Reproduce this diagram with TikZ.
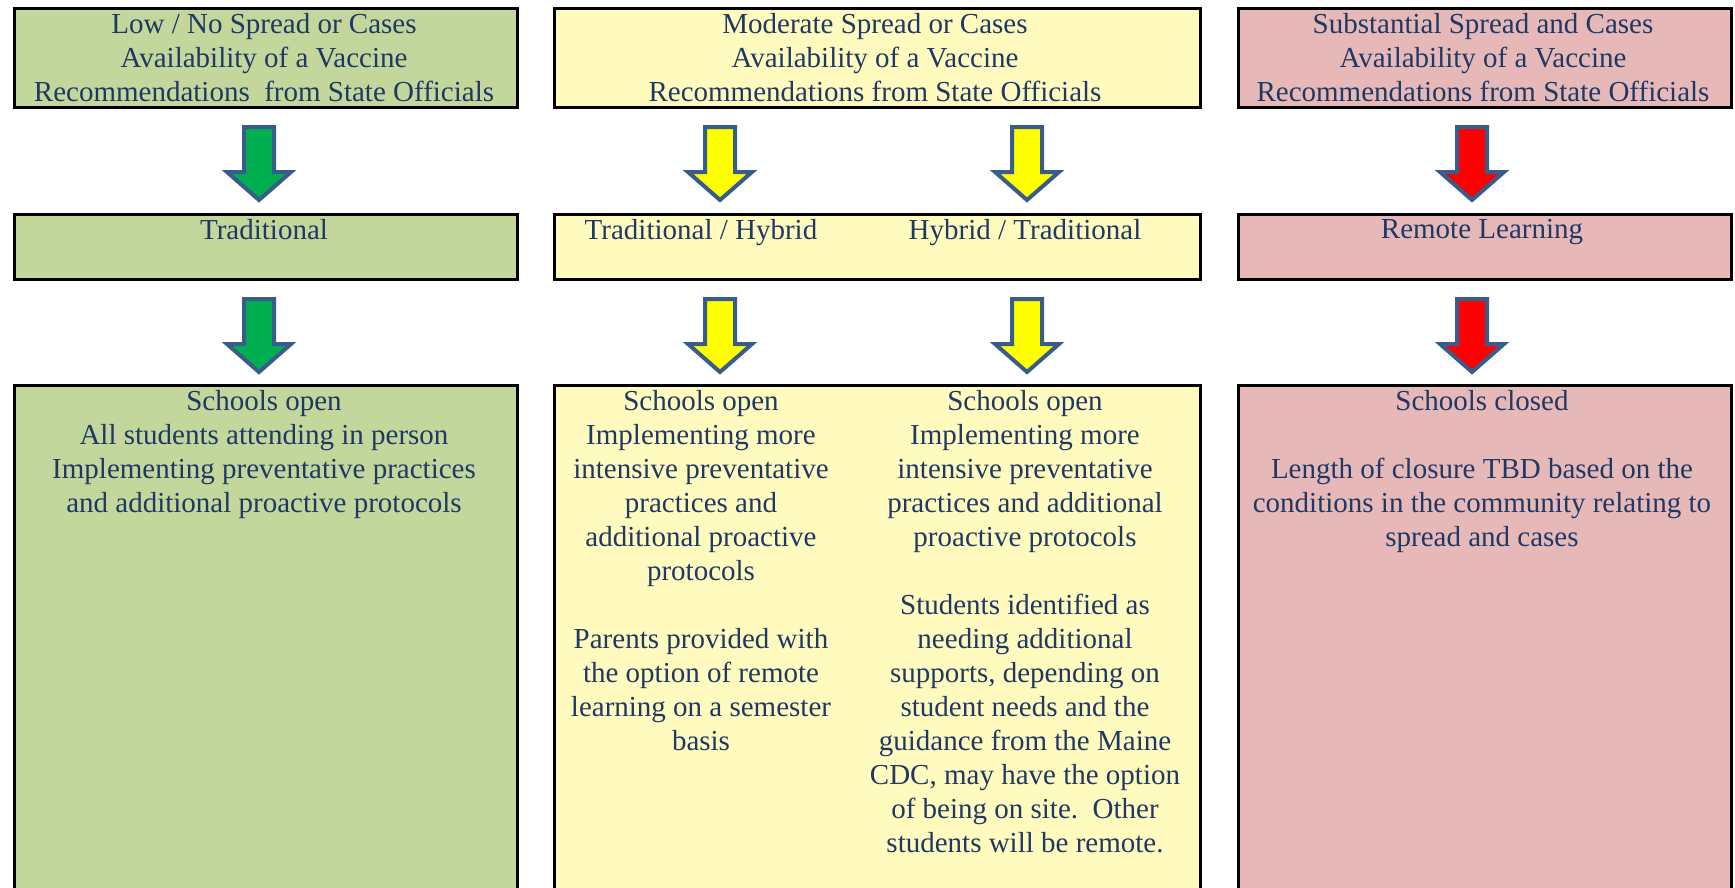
\documentclass[tikz,border=0pt]{standalone}
\usepackage{fontspec}
\setmainfont{Liberation Serif}
\definecolor{gfill}{HTML}{C3D69B}
\definecolor{yfill}{HTML}{FFFBBF}
\definecolor{rfill}{HTML}{E6B9B8}
\definecolor{agreen}{HTML}{00B050}
\definecolor{ayellow}{HTML}{FFFF00}
\definecolor{ared}{HTML}{FF0000}
\definecolor{aline}{HTML}{385D8A}
\definecolor{txt}{HTML}{1F3864}
\newcommand\barrow[2]{\filldraw[arrowline, fill=#2] (#1) ++(-15,2) -- ++(30,0) -- ++(0,45) -- ++(17,0) -- ++(-32,28) -- ++(-32,-28) -- ++(17,0) -- cycle;}
\begin{document}
\begin{tikzpicture}[x=1pt,y=-1pt,
  box/.style={draw=black, line width=3pt, anchor=north west, inner sep=0pt},
  lbl/.style={anchor=north, inner sep=0pt, align=center, text=txt, font=\fontsize{29}{34}\selectfont},
  arrowline/.style={draw=aline, line width=4pt, line join=miter}]
\useasboundingbox (0,0) rectangle (1735,887);
\clip (0,0) rectangle (1735,887);
% top row
\node[box, fill=gfill, minimum width=503pt, minimum height=99pt] (t1) at (12.5,6.5) {};
\node[box, fill=yfill, minimum width=646pt, minimum height=99pt] (t2) at (552.5,6.5) {};
\node[box, fill=rfill, minimum width=493pt, minimum height=99pt] (t3) at (1236.5,6.5) {};
% middle row
\node[box, fill=gfill, minimum width=503pt, minimum height=65pt] (m1) at (12.5,212.5) {};
\node[box, fill=yfill, minimum width=646pt, minimum height=65pt] (m2) at (552.5,212.5) {};
\node[box, fill=rfill, minimum width=493pt, minimum height=65pt] (m3) at (1236.5,212.5) {};
% bottom row
\node[box, fill=gfill, minimum width=503pt, minimum height=520pt] (b1) at (12.5,383.5) {};
\node[box, fill=yfill, minimum width=646pt, minimum height=520pt] (b2) at (552.5,383.5) {};
\node[box, fill=rfill, minimum width=493pt, minimum height=520pt] (b3) at (1236.5,383.5) {};
% texts
\node[lbl] (tx1) at (264,13) {Low / No Spread or Cases\\Availability of a Vaccine\\Recommendations\ \ from State Officials};
\node[lbl] (tx2) at (875,13) {Moderate Spread or Cases\\Availability of a Vaccine\\Recommendations from State Officials};
\node[lbl] (tx3) at (1483,13) {Substantial Spread and Cases\\Availability of a Vaccine\\Recommendations from State Officials};
\node[lbl] (mx1) at (264,219) {Traditional};
\node[lbl] (mx2a) at (701,219) {Traditional / Hybrid};
\node[lbl] (mx2b) at (1025,219) {Hybrid / Traditional};
\node[lbl] (mx3) at (1482,219) {Remote Learning};
\node[lbl] (bx1) at (264,390) {Schools open\\All students attending in person\\Implementing preventative practices\\and additional proactive protocols};
\node[lbl] (bx2a) at (701,390) {Schools open\\Implementing more\\intensive preventative\\practices and\\additional proactive\\protocols\\[34pt]Parents provided with\\the option of remote\\learning on a semester\\basis};
\node[lbl] (bx2b) at (1025,390) {Schools open\\Implementing more\\intensive preventative\\practices and additional\\proactive protocols\\[34pt]Students identified as\\needing additional\\supports, depending on\\student needs and the\\guidance from the Maine\\CDC, may have the option\\of being on site.\ \ Other\\students will be remote.};
\node[lbl] (bx3) at (1482,390) {Schools closed\\[34pt]Length of closure TBD based on the\\conditions in the community relating to\\spread and cases};
% arrows
\coordinate (a11) at (259,125);
\coordinate (a12) at (720,125);
\coordinate (a13) at (1027,125);
\coordinate (a14) at (1472,125);
\coordinate (a21) at (259,297);
\coordinate (a22) at (720,297);
\coordinate (a23) at (1027,297);
\coordinate (a24) at (1472,297);
\barrow{a11}{agreen}
\barrow{a12}{ayellow}
\barrow{a13}{ayellow}
\barrow{a14}{ared}
\barrow{a21}{agreen}
\barrow{a22}{ayellow}
\barrow{a23}{ayellow}
\barrow{a24}{ared}
\end{tikzpicture}
\end{document}
